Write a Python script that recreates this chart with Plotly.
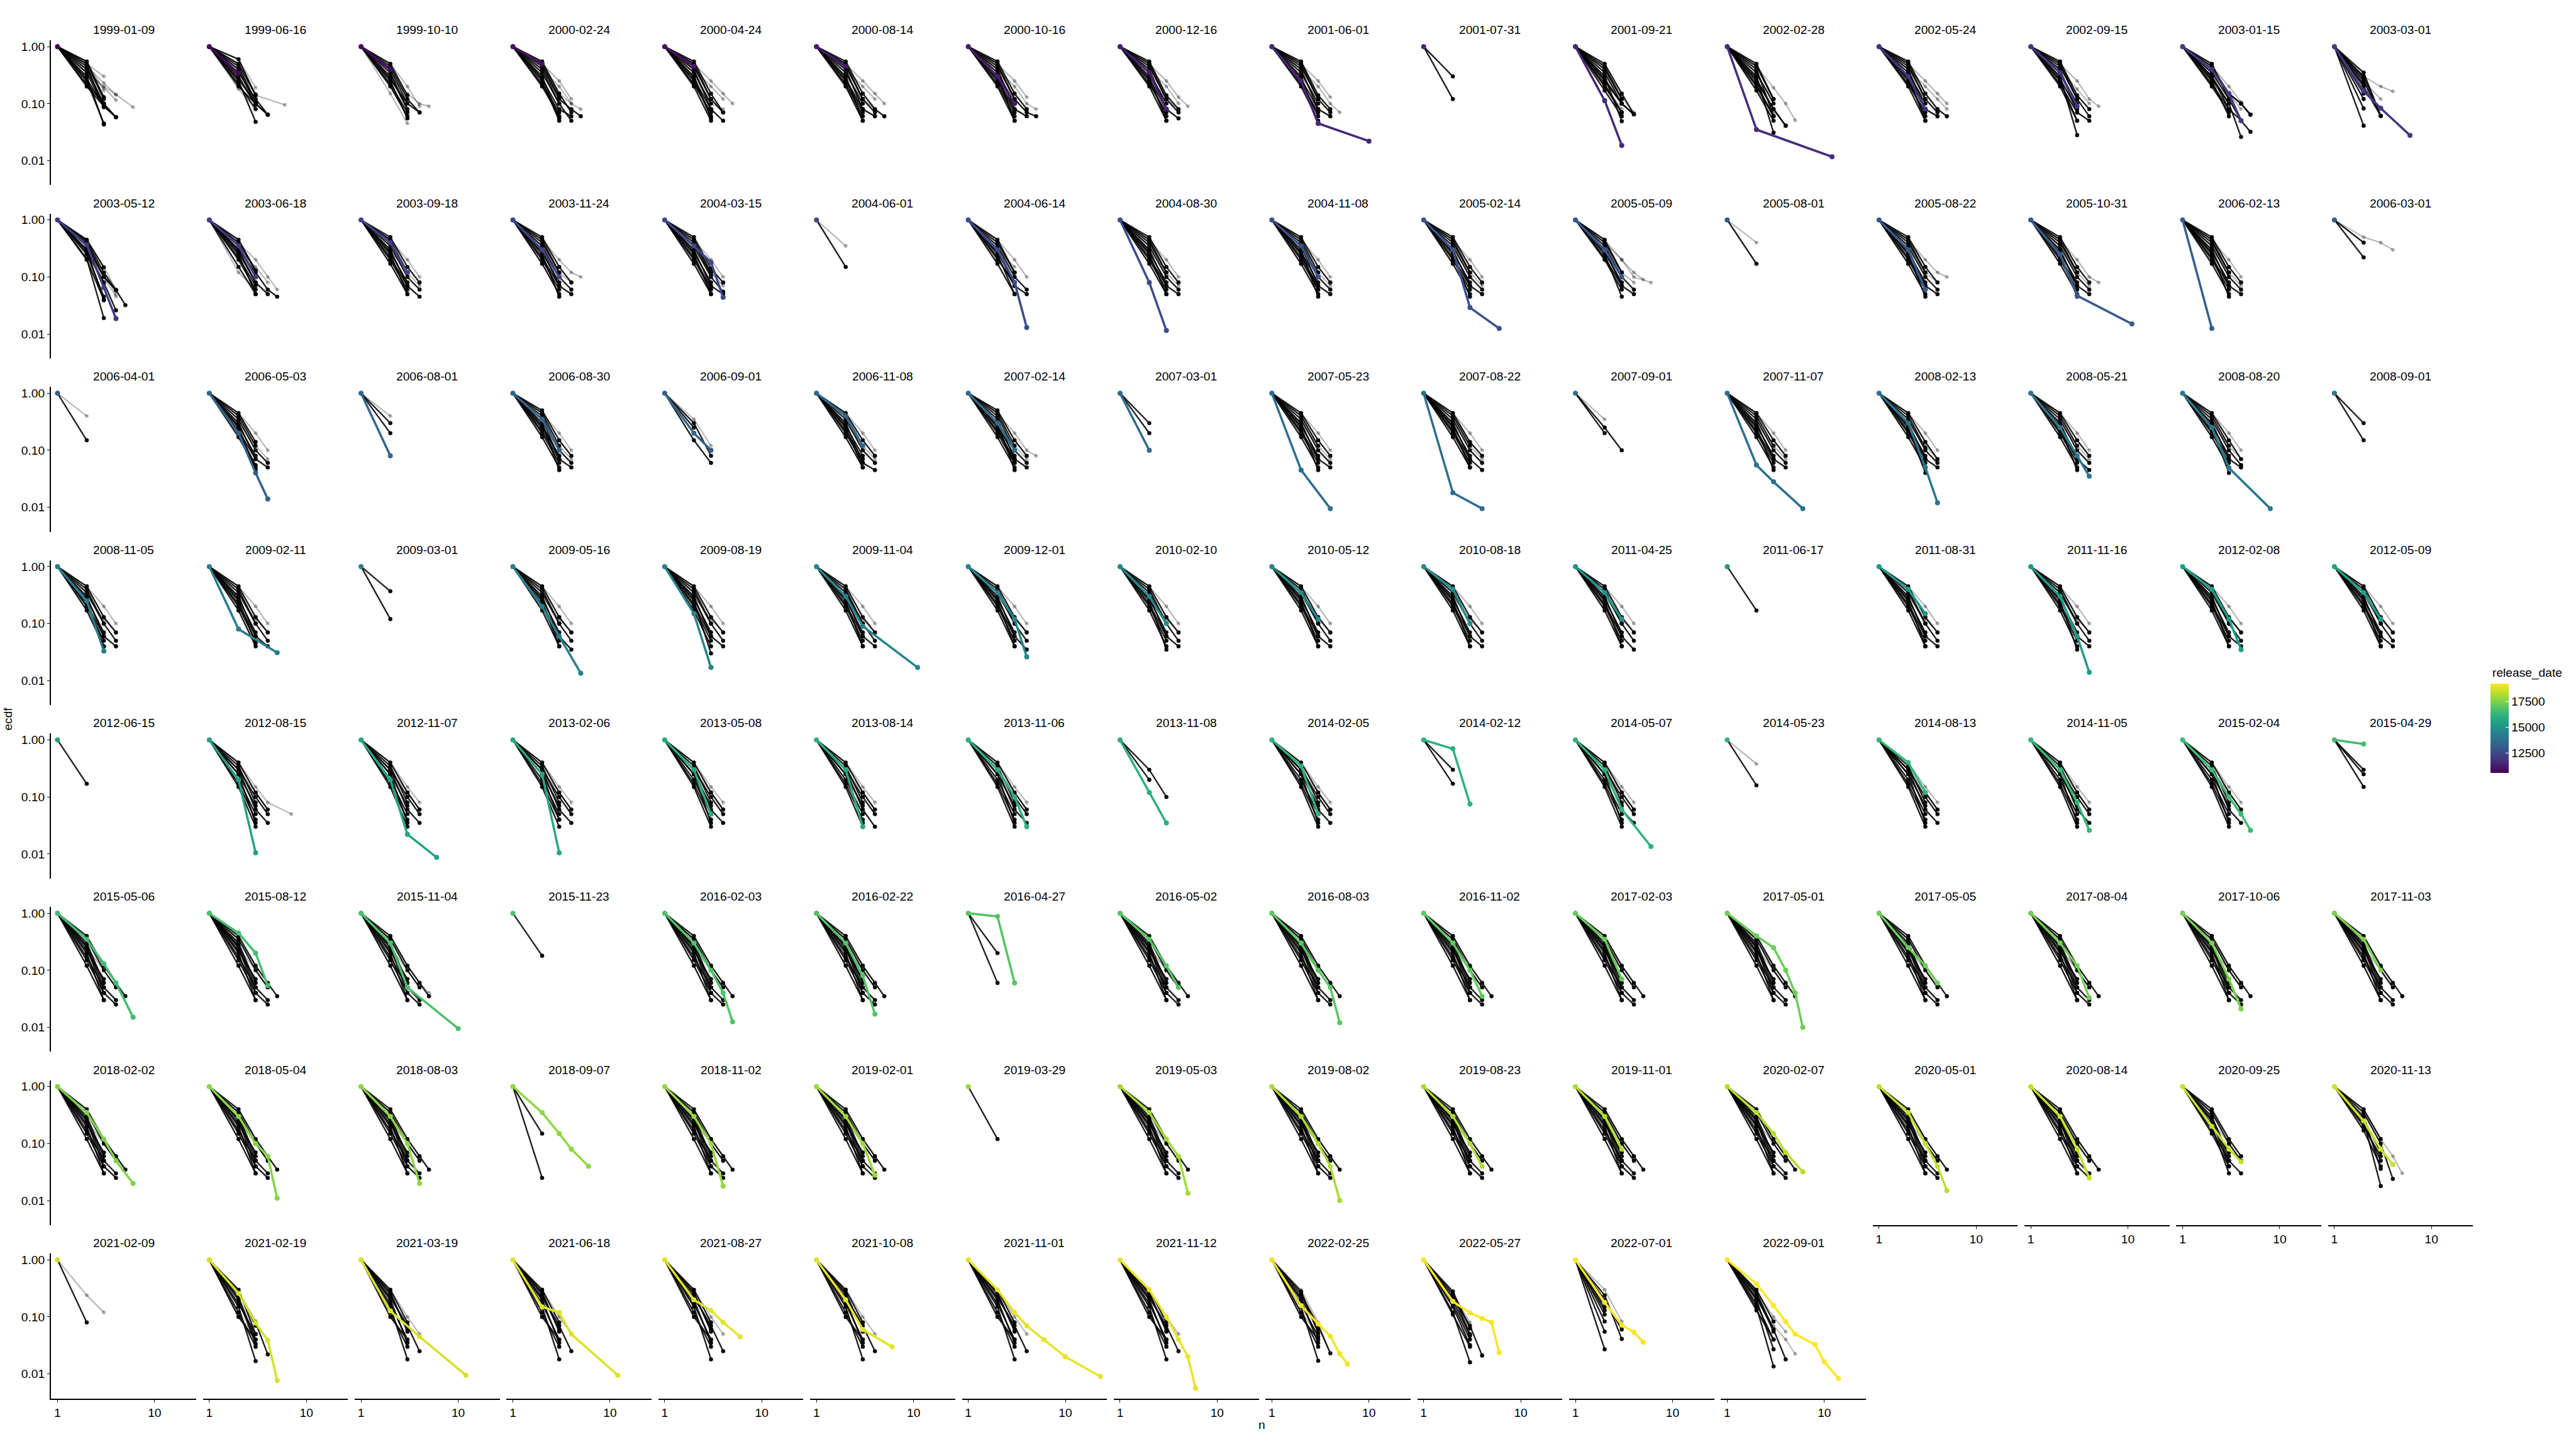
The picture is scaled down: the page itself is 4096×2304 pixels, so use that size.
import plotly.graph_objects as go
import pandas as pd
from plotly.colors import sample_colorscale

# ---------------- data ----------------
dates = [
    "1999-01-09", "1999-06-16", "1999-10-10", "2000-02-24", "2000-04-24", "2000-08-14", "2000-10-16", "2000-12-16",
    "2001-06-01", "2001-07-31", "2001-09-21", "2002-02-28", "2002-05-24", "2002-09-15", "2003-01-15", "2003-03-01",
    "2003-05-12", "2003-06-18", "2003-09-18", "2003-11-24", "2004-03-15", "2004-06-01", "2004-06-14", "2004-08-30",
    "2004-11-08", "2005-02-14", "2005-05-09", "2005-08-01", "2005-08-22", "2005-10-31", "2006-02-13", "2006-03-01",
    "2006-04-01", "2006-05-03", "2006-08-01", "2006-08-30", "2006-09-01", "2006-11-08", "2007-02-14", "2007-03-01",
    "2007-05-23", "2007-08-22", "2007-09-01", "2007-11-07", "2008-02-13", "2008-05-21", "2008-08-20", "2008-09-01",
    "2008-11-05", "2009-02-11", "2009-03-01", "2009-05-16", "2009-08-19", "2009-11-04", "2009-12-01", "2010-02-10",
    "2010-05-12", "2010-08-18", "2011-04-25", "2011-06-17", "2011-08-31", "2011-11-16", "2012-02-08", "2012-05-09",
    "2012-06-15", "2012-08-15", "2012-11-07", "2013-02-06", "2013-05-08", "2013-08-14", "2013-11-06", "2013-11-08",
    "2014-02-05", "2014-02-12", "2014-05-07", "2014-05-23", "2014-08-13", "2014-11-05", "2015-02-04", "2015-04-29",
    "2015-05-06", "2015-08-12", "2015-11-04", "2015-11-23", "2016-02-03", "2016-02-22", "2016-04-27", "2016-05-02",
    "2016-08-03", "2016-11-02", "2017-02-03", "2017-05-01", "2017-05-05", "2017-08-04", "2017-10-06", "2017-11-03",
    "2018-02-02", "2018-05-04", "2018-08-03", "2018-09-07", "2018-11-02", "2019-02-01", "2019-03-29", "2019-05-03",
    "2019-08-02", "2019-08-23", "2019-11-01", "2020-02-07", "2020-05-01", "2020-08-14", "2020-09-25", "2020-11-13",
    "2021-02-09", "2021-02-19", "2021-03-19", "2021-06-18", "2021-08-27", "2021-10-08", "2021-11-01", "2021-11-12",
    "2022-02-25", "2022-05-27", "2022-07-01", "2022-09-01",
]

# highlighted (coloured) release: n values and ecdf values
hl_n = [
    [1], [1, 2], [1, 2], [1, 2], [1, 2], [1, 2], [1, 2, 3], [1, 2, 3],
    [1, 2, 3, 10], [1], [1, 2, 3], [1, 2, 12], [1, 2, 3], [1, 2, 3], [1, 2, 3, 4], [1, 2, 3, 6],
    [1, 2, 3, 4], [1, 2, 3], [1, 2, 3], [1, 2, 3], [1, 2, 3, 4], [1], [1, 2, 3, 4], [1, 2, 3],
    [1, 2, 3], [1, 2, 3, 6], [1, 2, 3], [1], [1, 2, 3], [1, 2, 3, 11], [1, 2], [1],
    [1], [1, 2, 3, 4], [1, 2], [1, 2, 3], [1, 2, 3], [1, 2, 3], [1, 2, 3], [1, 2],
    [1, 2, 4], [1, 2, 4], [1], [1, 2, 3, 6], [1, 2, 3, 4], [1, 2, 3, 4], [1, 2, 3, 8], [1],
    [1, 2, 3], [1, 2, 5], [1], [1, 2, 3, 5], [1, 2, 3], [1, 2, 3, 11], [1, 2, 3, 4], [1, 2, 3],
    [1, 2, 3], [1, 2, 3], [1, 2, 3], [1], [1, 2, 3], [1, 2, 3, 4], [1, 2, 3, 4], [1, 2, 3],
    [1], [1, 2, 3], [1, 2, 3, 6], [1, 2, 3], [1, 2, 3], [1, 2, 3], [1, 2, 3, 4], [1, 2, 3],
    [1, 2, 3], [1, 2, 3], [1, 2, 3, 6], [1], [1, 2, 3], [1, 2, 3, 4], [1, 2, 3, 4, 5], [1, 2],
    [1, 2, 3, 4, 6], [1, 2, 3, 4], [1, 2, 3, 10], [1], [1, 2, 3, 4, 5], [1, 2, 3, 4], [1, 2, 3], [1, 2, 3, 4],
    [1, 2, 3, 4, 5], [1, 2, 3, 4], [1, 2, 3], [1, 2, 3, 4, 5, 6], [1, 2, 3, 4], [1, 2, 3, 4], [1, 2, 3, 4], [1, 2, 3],
    [1, 2, 3, 4, 6], [1, 2, 3, 4, 5], [1, 2, 3, 4], [1, 2, 3, 4, 6], [1, 2, 3, 4], [1, 2, 3, 4], [1], [1, 2, 3, 4, 5],
    [1, 2, 3, 4, 5], [1, 2, 3, 4], [1, 2, 3], [1, 2, 3, 4, 6], [1, 2, 3, 4, 5], [1, 2, 3, 4], [1, 2, 3, 4], [1, 2, 3, 4],
    [1], [1, 2, 3, 4, 5], [1, 2, 4, 12], [1, 2, 3, 4, 12], [1, 2, 3, 4, 6], [1, 2, 3, 6], [1, 2, 3, 4, 6, 10, 23], [1, 2, 3, 4, 5, 6],
    [1, 2, 3, 4, 5, 6], [1, 2, 3, 4, 5, 6], [1, 2, 3, 4, 5], [1, 2, 3, 4, 5, 8, 10, 14],
]
hl_y = [
    [1], [1, 0.34], [1, 0.4], [1, 0.5], [1, 0.45], [1, 0.45], [1, 0.3, 0.1], [1, 0.35, 0.08],
    [1, 0.25, 0.045, 0.022], [1], [1, 0.113, 0.0185], [1, 0.035, 0.0117], [1, 0.3, 0.08], [1, 0.35, 0.09], [1, 0.4, 0.15, 0.05], [1, 0.166, 0.083, 0.0278],
    [1, 0.366, 0.065, 0.0186], [1, 0.355, 0.1], [1, 0.4, 0.12], [1, 0.3, 0.1], [1, 0.35, 0.18, 0.044], [1], [1, 0.3, 0.08, 0.013], [1, 0.08, 0.0115],
    [1, 0.35, 0.1], [1, 0.3, 0.029, 0.0125], [1, 0.3, 0.1], [1], [1, 0.3, 0.06], [1, 0.25, 0.047, 0.015], [1, 0.0125], [1],
    [1], [1, 0.2, 0.04, 0.014], [1, 0.08], [1, 0.35, 0.1], [1, 0.2, 0.1], [1, 0.4, 0.12], [1, 0.3, 0.1], [1, 0.1],
    [1, 0.045, 0.0095], [1, 0.018, 0.0095], [1], [1, 0.055, 0.028, 0.0095], [1, 0.3, 0.05, 0.012], [1, 0.25, 0.08, 0.035], [1, 0.25, 0.049, 0.0095], [1],
    [1, 0.25, 0.033], [1, 0.08, 0.031], [1], [1, 0.2, 0.06, 0.0135], [1, 0.15, 0.017], [1, 0.3, 0.09, 0.017], [1, 0.35, 0.12, 0.026], [1, 0.3, 0.1],
    [1, 0.35, 0.12], [1, 0.4, 0.1], [1, 0.35, 0.12], [1], [1, 0.4, 0.15], [1, 0.3, 0.06, 0.014], [1, 0.4, 0.12, 0.035], [1, 0.35, 0.12],
    [1], [1, 0.2, 0.0105], [1, 0.2, 0.022, 0.0087], [1, 0.25, 0.0105], [1, 0.3, 0.05], [1, 0.3, 0.03], [1, 0.3, 0.1, 0.03], [1, 0.12, 0.035],
    [1, 0.35, 0.05], [1, 0.7, 0.075], [1, 0.3, 0.06, 0.0135], [1], [1, 0.4, 0.12], [1, 0.3, 0.08, 0.026], [1, 0.3, 0.1, 0.05, 0.026], [1, 0.85],
    [1, 0.35, 0.13, 0.06, 0.015], [1, 0.45, 0.2, 0.054], [1, 0.3, 0.05, 0.0095], [1], [1, 0.3, 0.1, 0.04, 0.0125], [1, 0.3, 0.08, 0.017], [1, 0.88, 0.06], [1, 0.35, 0.12, 0.05],
    [1, 0.3, 0.1, 0.05, 0.012], [1, 0.3, 0.1, 0.035], [1, 0.35, 0.07], [1, 0.4, 0.25, 0.1, 0.04, 0.01], [1, 0.25, 0.12, 0.06], [1, 0.3, 0.12, 0.033], [1, 0.3, 0.07, 0.021], [1, 0.35, 0.1],
    [1, 0.35, 0.12, 0.05, 0.02], [1, 0.3, 0.1, 0.06, 0.011], [1, 0.3, 0.1, 0.02], [1, 0.35, 0.15, 0.08, 0.04], [1, 0.3, 0.1, 0.018], [1, 0.3, 0.1, 0.028], [1], [1, 0.35, 0.12, 0.06, 0.0135],
    [1, 0.3, 0.1, 0.04, 0.01], [1, 0.3, 0.1, 0.04], [1, 0.3, 0.08], [1, 0.35, 0.15, 0.07, 0.032], [1, 0.35, 0.1, 0.04, 0.015], [1, 0.3, 0.08, 0.025], [1, 0.2, 0.08, 0.048], [1, 0.25, 0.08, 0.043],
    [1], [1, 0.26, 0.078, 0.039, 0.0077], [1, 0.127, 0.045, 0.0095], [1, 0.15, 0.12, 0.05, 0.0095], [1, 0.2, 0.13, 0.08, 0.045], [1, 0.2, 0.06, 0.03], [1, 0.3, 0.12, 0.07, 0.04, 0.02, 0.009], [1, 0.3, 0.1, 0.04, 0.02, 0.0056],
    [1, 0.158, 0.075, 0.046, 0.0226, 0.015], [1, 0.187, 0.118, 0.094, 0.08, 0.0237], [1, 0.18, 0.072, 0.054, 0.036], [1, 0.38, 0.158, 0.083, 0.05, 0.033, 0.0163, 0.0083],
]

# other releases drawn opaque: ecdf at n = 2, 3, ... (n = 1 is always 1.00; None = gap in n)
dark_lines = [
    # row 1
    [[0.55, 0.13], [0.5, 0.12], [0.45, 0.087], [0.4, 0.1, 0.058], [0.35, 0.087], [0.3, 0.043], [0.27, 0.09, 0.058], [0.25, 0.045], [0.22, 0.1], [0.2, 0.09, 0.058]],  # 1999-01-09
    [[0.6, 0.14], [0.5, 0.143], [0.45, 0.11], [0.4, 0.096], [0.35, 0.12, 0.064], [0.3, 0.096], [0.27, 0.1, 0.064], [0.25, 0.048], [0.22, 0.08], [0.2, 0.1, 0.064]],  # 1999-06-16
    [[0.5, 0.14], [0.45, 0.12, 0.07], [0.4, 0.1, 0.07], [0.35, 0.08], [0.3, 0.08], [0.27, 0.1], [0.25, 0.055], [0.22, 0.07], [0.2, 0.06]],  # 1999-10-10
    [[0.55, 0.15, 0.07], [0.5, 0.13], [0.45, 0.12, 0.08, 0.06], [0.4, 0.1, 0.05], [0.35, 0.1], [0.3, 0.055], [0.27, 0.08, 0.06], [0.25, 0.05], [0.22, 0.07], [0.2, 0.06]],  # 2000-02-24
    [[0.55, 0.15, 0.07], [0.5, 0.12], [0.45, 0.12, 0.07], [0.4, 0.08, 0.05], [0.35, 0.1], [0.3, 0.055], [0.27, 0.08], [0.25, 0.06], [0.22, 0.07], [0.2, 0.05]],  # 2000-04-24
    [[0.55, 0.15, 0.08, 0.06], [0.5, 0.12], [0.45, 0.12, 0.07], [0.4, 0.08, 0.06], [0.35, 0.1], [0.3, 0.05], [0.27, 0.08], [0.25, 0.07], [0.22, 0.06], [0.2, 0.05]],  # 2000-08-14
    [[0.55, 0.15, 0.08], [0.5, 0.12], [0.45, 0.12, 0.07, 0.06], [0.4, 0.08, 0.06], [0.35, 0.1], [0.3, 0.05], [0.27, 0.08], [0.25, 0.07], [0.22, 0.06], [0.2, 0.05]],  # 2000-10-16
    [[0.55, 0.14, 0.08], [0.5, 0.12], [0.45, 0.12, 0.07], [0.4, 0.08, 0.055], [0.35, 0.1], [0.3, 0.05], [0.27, 0.08], [0.25, 0.06], [0.22, 0.07], [0.2, 0.05]],  # 2000-12-16
    [[0.55, 0.14, 0.08], [0.5, 0.12], [0.45, 0.12, 0.07], [0.4, 0.08, 0.06], [0.35, 0.1], [0.3, 0.045], [0.27, 0.08], [0.25, 0.06], [0.22, 0.07], [0.2, 0.05]],  # 2001-06-01
    [[0.3], [0.12]],  # 2001-07-31
    [[0.5, 0.15, 0.065], [0.45, 0.12], [0.4, 0.12], [0.35, 0.1], [0.3, 0.049], [0.27, 0.1, 0.065], [0.25, 0.1, 0.065], [0.22, 0.07], [0.2, 0.07], [0.17, 0.06]],  # 2001-09-21
    [[0.5, 0.12], [0.45, 0.12], [0.4, 0.061], [0.35, 0.1], [0.3, 0.031], [0.27, 0.08, 0.041], [0.25, 0.08, 0.041], [0.22, 0.06], [0.2, 0.06], [0.17, 0.05]],  # 2002-02-28
    [[0.55, 0.15, 0.08, 0.06], [0.5, 0.12], [0.45, 0.12, 0.07], [0.4, 0.08, 0.06], [0.35, 0.1], [0.3, 0.05], [0.27, 0.08], [0.25, 0.06], [0.22, 0.07], [0.2, 0.05]],  # 2002-05-24
    [[0.55, 0.14, 0.08], [0.5, 0.12], [0.45, 0.12, 0.06], [0.4, 0.07, 0.05], [0.35, 0.1], [0.3, 0.028], [0.27, 0.08], [0.25, 0.05], [0.22, 0.07], [0.2, 0.05]],  # 2002-09-15
    [[0.5, 0.12], [0.45, 0.15, 0.1, 0.064], [0.4, 0.15, 0.1, 0.064], [0.35, 0.12, 0.05, 0.032], [0.3, 0.1, 0.026], [0.3, 0.08, 0.051], [0.27, 0.1], [0.25, 0.06], [0.22, 0.08], [0.2, 0.07]],  # 2003-01-15
    [[0.082], [0.041], [0.35, 0.061], [0.3, 0.061], [0.25, 0.061], [0.2, 0.061], [0.12], [0.28], [0.22], [0.15]],  # 2003-03-01
    # row 2
    [[0.45, 0.147], [0.43, 0.12, 0.059, 0.032], [0.4, 0.1, 0.059], [0.35, 0.1, 0.059], [0.3, 0.039], [0.3, 0.08, 0.026], [0.27, 0.08], [0.25, 0.045], [0.21, 0.019], [0.2, 0.04]],  # 2003-05-12
    [[0.45, 0.13], [0.4, 0.13], [0.35, 0.1], [0.3, 0.12, 0.06, 0.045], [0.3, 0.08, 0.05], [0.27, 0.08], [0.25, 0.05], [0.22, 0.07], [0.2, 0.06], [0.15, 0.05]],  # 2003-06-18
    [[0.5, 0.15, 0.08], [0.45, 0.12], [0.4, 0.12], [0.35, 0.1, 0.06], [0.3, 0.07, 0.045], [0.27, 0.08], [0.25, 0.05], [0.22, 0.07], [0.2, 0.06], [0.17, 0.05]],  # 2003-09-18
    [[0.5, 0.15, 0.08], [0.45, 0.12], [0.4, 0.12], [0.35, 0.1, 0.06], [0.3, 0.07, 0.05], [0.27, 0.08], [0.25, 0.045], [0.22, 0.07], [0.2, 0.06], [0.17, 0.05]],  # 2003-11-24
    [[0.5, 0.14, 0.08], [0.45, 0.12], [0.4, 0.11], [0.35, 0.1, 0.055], [0.3, 0.07, 0.05], [0.27, 0.08], [0.25, 0.05], [0.22, 0.065], [0.2, 0.06], [0.17, 0.05]],  # 2004-03-15
    [[0.15]],  # 2004-06-01
    [[0.45, 0.12], [0.4, 0.12], [0.35, 0.1, 0.06], [0.3, 0.07, 0.05], [0.27, 0.08], [0.25, 0.05], [0.22, 0.07], [0.2, 0.08], [0.17, 0.05]],  # 2004-06-14
    [[0.5, 0.15, 0.08], [0.45, 0.12], [0.4, 0.12], [0.35, 0.1, 0.06], [0.3, 0.07, 0.05], [0.27, 0.08], [0.25, 0.05], [0.22, 0.07], [0.2, 0.06], [0.17, 0.05]],  # 2004-08-30
    [[0.5, 0.15, 0.08], [0.45, 0.12], [0.4, 0.1, 0.06], [0.35, 0.07, 0.05], [0.3, 0.045], [0.27, 0.08], [0.25, 0.06], [0.22, 0.07], [0.2, 0.06], [0.17, 0.05]],  # 2004-11-08
    [[0.5, 0.15, 0.08], [0.45, 0.12], [0.4, 0.12], [0.35, 0.1, 0.06], [0.3, 0.07, 0.05], [0.27, 0.08], [0.25, 0.045], [0.22, 0.07], [0.2, 0.06], [0.17, 0.05]],  # 2005-02-14
    [[0.45, 0.12], [0.4, 0.12], [0.35, 0.1, 0.06], [0.3, 0.07, 0.05], [0.27, 0.08], [0.25, 0.045], [0.22, 0.07], [0.2, 0.06]],  # 2005-05-09
    [[0.17]],  # 2005-08-01
    [[0.5, 0.15, 0.08], [0.45, 0.12], [0.4, 0.12], [0.35, 0.1, 0.06], [0.3, 0.07, 0.05], [0.27, 0.08], [0.25, 0.045], [0.22, 0.07], [0.2, 0.06], [0.17, 0.05]],  # 2005-08-22
    [[0.5, 0.15, 0.08], [0.45, 0.12], [0.4, 0.12], [0.35, 0.1, 0.06], [0.3, 0.07, 0.05], [0.27, 0.08], [0.25, 0.045], [0.22, 0.07], [0.2, 0.06], [0.17, 0.05]],  # 2005-10-31
    [[0.5, 0.15, 0.08], [0.45, 0.12], [0.4, 0.12], [0.35, 0.1, 0.06], [0.3, 0.07, 0.05], [0.27, 0.08], [0.25, 0.045], [0.22, 0.07], [0.2, 0.06], [0.17, 0.05]],  # 2006-02-13
    [[0.4], [0.22]],  # 2006-03-01
    # row 3
    [[0.15]],  # 2006-04-01
    [[0.45, 0.14], [0.4, 0.12], [0.35, 0.1, 0.06], [0.3, 0.07, 0.05], [0.27, 0.08], [0.25, 0.045], [0.22, 0.07], [0.2, 0.055], [0.17, 0.05]],  # 2006-05-03
    [[0.2], [0.3]],  # 2006-08-01
    [[0.5, 0.15, 0.08], [0.45, 0.12], [0.4, 0.1, 0.06], [0.35, 0.07, 0.05], [0.3, 0.045], [0.27, 0.08], [0.25, 0.08], [0.22, 0.07], [0.2, 0.06], [0.17, 0.05]],  # 2006-08-30
    [[0.3, 0.08], [0.15, 0.06], [0.25]],  # 2006-09-01
    [[0.45, 0.15, 0.08], [0.4, 0.12], [0.35, 0.1, 0.06], [0.3, 0.06, 0.045], [0.27, 0.08], [0.25, 0.05], [0.22, 0.07], [0.2, 0.06], [0.17, 0.05]],  # 2006-11-08
    [[0.5, 0.15, 0.08], [0.45, 0.12], [0.4, 0.1, 0.06], [0.35, 0.07, 0.05], [0.3, 0.045], [0.27, 0.08], [0.25, 0.06], [0.22, 0.07], [0.2, 0.06], [0.17, 0.05]],  # 2007-02-14
    [[0.3], [0.2]],  # 2007-03-01
    [[0.45, 0.15, 0.08], [0.4, 0.12], [0.35, 0.1, 0.06], [0.3, 0.07, 0.05], [0.27, 0.08], [0.25, 0.045], [0.22, 0.07], [0.2, 0.06], [0.17, 0.05]],  # 2007-05-23
    [[0.45, 0.14, 0.08], [0.4, 0.12], [0.35, 0.1, 0.06], [0.3, 0.07, 0.045], [0.27, 0.08], [0.25, 0.05], [0.22, 0.07], [0.2, 0.06], [0.17, 0.05]],  # 2007-08-22
    [[0.25, 0.1], [0.2]],  # 2007-09-01
    [[0.45, 0.15, 0.08], [0.4, 0.12], [0.35, 0.1, 0.06], [0.3, 0.07, 0.05], [0.27, 0.08], [0.25, 0.045], [0.22, 0.07], [0.2, 0.06], [0.17, 0.05]],  # 2007-11-07
    [[0.45, 0.14, 0.07], [0.4, 0.11], [0.35, 0.1, 0.06], [0.3, 0.07, 0.05], [0.27, 0.08], [0.25, 0.04], [0.22, 0.07], [0.2, 0.06], [0.17, 0.05]],  # 2008-02-13
    [[0.45, 0.15, 0.08], [0.4, 0.12], [0.35, 0.1, 0.06], [0.3, 0.07, 0.045], [0.27, 0.08], [0.25, 0.045], [0.22, 0.07], [0.2, 0.06], [0.17, 0.05]],  # 2008-05-21
    [[0.45, 0.15, 0.07], [0.4, 0.12], [0.35, 0.1, 0.055], [0.3, 0.07, 0.05], [0.27, 0.08], [0.25, 0.04], [0.22, 0.07], [0.2, 0.06], [0.17, 0.05]],  # 2008-08-20
    [[0.3], [0.15]],  # 2008-09-01
    # row 4
    [[0.45, 0.13, 0.07], [0.4, 0.1], [0.35, 0.1, 0.05], [0.3, 0.06, 0.04], [0.27, 0.07], [0.25, 0.04], [0.22, 0.06], [0.2, 0.05], [0.17, 0.04]],  # 2008-11-05
    [[0.45, 0.13, 0.07], [0.4, 0.1], [0.35, 0.1, 0.05], [0.3, 0.06, 0.04], [0.27, 0.07], [0.25, 0.045], [0.22, 0.06], [0.2, 0.05], [0.17, 0.04]],  # 2009-02-11
    [[0.37], [0.12]],  # 2009-03-01
    [[0.45, 0.13, 0.07], [0.4, 0.1], [0.35, 0.1, 0.05], [0.3, 0.06, 0.035], [0.27, 0.07], [0.25, 0.04], [0.22, 0.06], [0.2, 0.05], [0.17, 0.04]],  # 2009-05-16
    [[0.45, 0.13, 0.07], [0.4, 0.1], [0.35, 0.1, 0.05], [0.3, 0.06, 0.04], [0.27, 0.07], [0.25, 0.03], [0.22, 0.06], [0.2, 0.05], [0.17, 0.04]],  # 2009-08-19
    [[0.45, 0.13, 0.07], [0.4, 0.1], [0.35, 0.1, 0.05], [0.3, 0.06, 0.04], [0.27, 0.07], [0.25, 0.04], [0.22, 0.06], [0.2, 0.05], [0.17, 0.04]],  # 2009-11-04
    [[0.45, 0.13, 0.07], [0.4, 0.1], [0.35, 0.1, 0.05], [0.3, 0.06, 0.035], [0.27, 0.07], [0.25, 0.04], [0.22, 0.06], [0.2, 0.05], [0.17, 0.04]],  # 2009-12-01
    [[0.45, 0.13, 0.07], [0.4, 0.1], [0.35, 0.1, 0.05], [0.3, 0.06, 0.04], [0.27, 0.07], [0.25, 0.035], [0.22, 0.06], [0.2, 0.05], [0.17, 0.04]],  # 2010-02-10
    [[0.45, 0.13, 0.07], [0.4, 0.1], [0.35, 0.1, 0.05], [0.3, 0.06, 0.04], [0.27, 0.07], [0.25, 0.04], [0.22, 0.06], [0.2, 0.05], [0.17, 0.04]],  # 2010-05-12
    [[0.45, 0.13, 0.07], [0.4, 0.1], [0.35, 0.1, 0.05], [0.3, 0.06, 0.04], [0.27, 0.07], [0.25, 0.04], [0.22, 0.06], [0.2, 0.05], [0.17, 0.04]],  # 2010-08-18
    [[0.45, 0.13, 0.07], [0.4, 0.1], [0.35, 0.1, 0.05], [0.3, 0.06, 0.035], [0.27, 0.07], [0.25, 0.04], [0.22, 0.06], [0.2, 0.05], [0.17, 0.04]],  # 2011-04-25
    [[0.17]],  # 2011-06-17
    [[0.45, 0.13, 0.07], [0.4, 0.1], [0.35, 0.1, 0.05], [0.3, 0.06, 0.04], [0.27, 0.07], [0.25, 0.04], [0.22, 0.06], [0.2, 0.05], [0.17, 0.04]],  # 2011-08-31
    [[0.45, 0.13, 0.07], [0.4, 0.1], [0.35, 0.1, 0.05], [0.3, 0.06, 0.04], [0.27, 0.07], [0.25, 0.035], [0.22, 0.06], [0.2, 0.05], [0.17, 0.04]],  # 2011-11-16
    [[0.45, 0.13, 0.07], [0.4, 0.1], [0.35, 0.1, 0.05], [0.3, 0.06, 0.04], [0.27, 0.07], [0.25, 0.04], [0.22, 0.06], [0.2, 0.05], [0.17, 0.04]],  # 2012-02-08
    [[0.45, 0.13, 0.07], [0.4, 0.1], [0.35, 0.1, 0.05], [0.3, 0.06, 0.04], [0.27, 0.07], [0.25, 0.04], [0.22, 0.06], [0.2, 0.05], [0.17, 0.04]],  # 2012-05-09
    # row 5
    [[0.17]],  # 2012-06-15
    [[0.4, 0.12, 0.06], [0.35, 0.08], [0.3, 0.1, 0.05], [0.3, 0.06, 0.035], [0.25, 0.07], [0.25, 0.035], [0.2, 0.05], [0.17, 0.04], [0.15, 0.03]],  # 2012-08-15
    [[0.4, 0.12, 0.06], [0.35, 0.08], [0.3, 0.1, 0.05], [0.3, 0.06, 0.035], [0.25, 0.07], [0.25, 0.035], [0.2, 0.05], [0.17, 0.04], [0.15, 0.03]],  # 2012-11-07
    [[0.4, 0.12, 0.06], [0.35, 0.08], [0.3, 0.1, 0.05], [0.3, 0.06, 0.035], [0.25, 0.07], [0.25, 0.04], [0.2, 0.05], [0.17, 0.04], [0.15, 0.03]],  # 2013-02-06
    [[0.4, 0.12, 0.06], [0.35, 0.08], [0.3, 0.1, 0.05], [0.3, 0.06, 0.035], [0.25, 0.07], [0.25, 0.035], [0.2, 0.05], [0.17, 0.04], [0.15, 0.03]],  # 2013-05-08
    [[0.4, 0.12, 0.06], [0.35, 0.08], [0.3, 0.1, 0.05], [0.3, 0.06, 0.03], [0.25, 0.07], [0.25, 0.035], [0.2, 0.05], [0.17, 0.04], [0.15, 0.03]],  # 2013-08-14
    [[0.4, 0.12, 0.06], [0.35, 0.08], [0.3, 0.1, 0.05], [0.3, 0.06, 0.035], [0.25, 0.07], [0.25, 0.035], [0.2, 0.05], [0.17, 0.04], [0.15, 0.03]],  # 2013-11-06
    [[0.2], [0.3, 0.1]],  # 2013-11-08
    [[0.4, 0.12, 0.06], [0.35, 0.08], [0.3, 0.1, 0.05], [0.3, 0.06, 0.035], [0.25, 0.07], [0.25, 0.035], [0.2, 0.05], [0.17, 0.04], [0.15, 0.03]],  # 2014-02-05
    [[0.17], [0.3]],  # 2014-02-12
    [[0.4, 0.12, 0.06], [0.35, 0.08], [0.3, 0.1, 0.05], [0.3, 0.06, 0.035], [0.25, 0.07], [0.25, 0.035], [0.2, 0.05], [0.17, 0.04], [0.15, 0.03]],  # 2014-05-07
    [[0.16]],  # 2014-05-23
    [[0.4, 0.12, 0.06], [0.35, 0.08], [0.3, 0.1, 0.05], [0.3, 0.06, 0.035], [0.25, 0.07], [0.25, 0.035], [0.2, 0.05], [0.17, 0.04], [0.15, 0.03]],  # 2014-08-13
    [[0.4, 0.12, 0.06], [0.35, 0.08], [0.3, 0.1, 0.05], [0.3, 0.06, 0.035], [0.25, 0.07], [0.25, 0.035], [0.2, 0.05], [0.17, 0.04], [0.15, 0.03]],  # 2014-11-05
    [[0.4, 0.12, 0.06], [0.35, 0.08], [0.3, 0.1, 0.05], [0.3, 0.06, 0.035], [0.25, 0.07], [0.25, 0.035], [0.2, 0.05], [0.17, 0.04], [0.15, 0.03]],  # 2015-02-04
    [[0.15], [0.25], [0.3]],  # 2015-04-29
    # row 6
    [[0.4, 0.12, 0.06, 0.035], [0.35, 0.1, 0.05], [0.3, 0.06], [0.27, 0.05, 0.03], [0.25, 0.04, 0.025], [0.22, 0.07], [0.2, 0.03], [0.17, 0.05], [0.15, 0.04], [0.12, 0.03]],  # 2015-05-06
    [[0.4, 0.12, 0.06, 0.035], [0.35, 0.1, 0.05], [0.3, 0.06], [0.27, 0.05, 0.03], [0.25, 0.04, 0.025], [0.22, 0.07], [0.2, 0.03], [0.17, 0.05], [0.15, 0.04], [0.12, 0.03]],  # 2015-08-12
    [[0.4, 0.12, 0.06, 0.035], [0.35, 0.1, 0.05], [0.3, 0.06], [0.27, 0.05, 0.03], [0.25, 0.04, 0.025], [0.22, 0.07], [0.2, 0.03], [0.17, 0.05], [0.15, 0.04], [0.12, 0.03]],  # 2015-11-04
    [[0.18]],  # 2015-11-23
    [[0.4, 0.12, 0.06, 0.035], [0.35, 0.1, 0.05], [0.3, 0.06], [0.27, 0.05, 0.03], [0.25, 0.04, 0.025], [0.22, 0.07], [0.2, 0.03], [0.17, 0.05], [0.15, 0.04], [0.12, 0.03]],  # 2016-02-03
    [[0.4, 0.12, 0.06, 0.035], [0.35, 0.1, 0.05], [0.3, 0.06], [0.27, 0.05, 0.03], [0.25, 0.04, 0.025], [0.22, 0.07], [0.2, 0.03], [0.17, 0.05], [0.15, 0.04], [0.12, 0.03]],  # 2016-02-22
    [[0.2], [0.06]],  # 2016-04-27
    [[0.4, 0.12, 0.06, 0.035], [0.35, 0.1, 0.05], [0.3, 0.06], [0.27, 0.05, 0.03], [0.25, 0.04, 0.025], [0.22, 0.07], [0.2, 0.03], [0.17, 0.05], [0.15, 0.04], [0.12, 0.03]],  # 2016-05-02
    [[0.4, 0.12, 0.06, 0.035], [0.35, 0.1, 0.05], [0.3, 0.06], [0.27, 0.05, 0.03], [0.25, 0.04, 0.025], [0.22, 0.07], [0.2, 0.03], [0.17, 0.05], [0.15, 0.04], [0.12, 0.03]],  # 2016-08-03
    [[0.4, 0.12, 0.06, 0.035], [0.35, 0.1, 0.05], [0.3, 0.06], [0.27, 0.05, 0.03], [0.25, 0.04, 0.025], [0.22, 0.07], [0.2, 0.03], [0.17, 0.05], [0.15, 0.04], [0.12, 0.03]],  # 2016-11-02
    [[0.4, 0.12, 0.06, 0.035], [0.35, 0.1, 0.05], [0.3, 0.06], [0.27, 0.05, 0.03], [0.25, 0.04, 0.025], [0.22, 0.07], [0.2, 0.03], [0.17, 0.05], [0.15, 0.04], [0.12, 0.03]],  # 2017-02-03
    [[0.4, 0.12, 0.06, 0.035], [0.35, 0.1, 0.05], [0.3, 0.06], [0.27, 0.05, 0.03], [0.25, 0.04, 0.025], [0.22, 0.07], [0.2, 0.03], [0.17, 0.05], [0.15, 0.04], [0.12, 0.03]],  # 2017-05-01
    [[0.4, 0.12, 0.06, 0.035], [0.35, 0.1, 0.05], [0.3, 0.06], [0.27, 0.05, 0.03], [0.25, 0.04, 0.025], [0.22, 0.07], [0.2, 0.03], [0.17, 0.05], [0.15, 0.04], [0.12, 0.03]],  # 2017-05-05
    [[0.4, 0.12, 0.06, 0.035], [0.35, 0.1, 0.05], [0.3, 0.06], [0.27, 0.05, 0.03], [0.25, 0.04, 0.025], [0.22, 0.07], [0.2, 0.03], [0.17, 0.05], [0.15, 0.04], [0.12, 0.03]],  # 2017-08-04
    [[0.4, 0.12, 0.06, 0.035], [0.35, 0.1, 0.05], [0.3, 0.06], [0.27, 0.05, 0.03], [0.25, 0.04, 0.025], [0.22, 0.07], [0.2, 0.03], [0.17, 0.05], [0.15, 0.04], [0.12, 0.03]],  # 2017-10-06
    [[0.4, 0.12, 0.06, 0.035], [0.35, 0.1, 0.05], [0.3, 0.06], [0.27, 0.05, 0.03], [0.25, 0.04, 0.025], [0.22, 0.07], [0.2, 0.03], [0.17, 0.05], [0.15, 0.04], [0.12, 0.03]],  # 2017-11-03
    # row 7
    [[0.4, 0.12, 0.06, 0.035], [0.35, 0.1, 0.05], [0.3, 0.06], [0.27, 0.05, 0.03], [0.25, 0.04, 0.025], [0.22, 0.07], [0.2, 0.03], [0.17, 0.05], [0.15, 0.04], [0.12, 0.03]],  # 2018-02-02
    [[0.4, 0.12, 0.06, 0.035], [0.35, 0.1, 0.05], [0.3, 0.06], [0.27, 0.05, 0.03], [0.25, 0.04, 0.025], [0.22, 0.07], [0.2, 0.03], [0.17, 0.05], [0.15, 0.04], [0.12, 0.03]],  # 2018-05-04
    [[0.4, 0.12, 0.06, 0.035], [0.35, 0.1, 0.05], [0.3, 0.06], [0.27, 0.05, 0.03], [0.25, 0.04, 0.025], [0.22, 0.07], [0.2, 0.03], [0.17, 0.05], [0.15, 0.04], [0.12, 0.03]],  # 2018-08-03
    [[0.15], [0.025]],  # 2018-09-07
    [[0.4, 0.12, 0.06, 0.035], [0.35, 0.1, 0.05], [0.3, 0.06], [0.27, 0.05, 0.03], [0.25, 0.04, 0.025], [0.22, 0.07], [0.2, 0.03], [0.17, 0.05], [0.15, 0.04], [0.12, 0.03]],  # 2018-11-02
    [[0.4, 0.12, 0.06, 0.035], [0.35, 0.1, 0.05], [0.3, 0.06], [0.27, 0.05, 0.03], [0.25, 0.04, 0.025], [0.22, 0.07], [0.2, 0.03], [0.17, 0.05], [0.15, 0.04], [0.12, 0.03]],  # 2019-02-01
    [[0.12]],  # 2019-03-29
    [[0.4, 0.12, 0.06, 0.035], [0.35, 0.1, 0.05], [0.3, 0.06], [0.27, 0.05, 0.03], [0.25, 0.04, 0.025], [0.22, 0.07], [0.2, 0.03], [0.17, 0.05], [0.15, 0.04], [0.12, 0.03]],  # 2019-05-03
    [[0.4, 0.12, 0.06, 0.035], [0.35, 0.1, 0.05], [0.3, 0.06], [0.27, 0.05, 0.03], [0.25, 0.04, 0.025], [0.22, 0.07], [0.2, 0.03], [0.17, 0.05], [0.15, 0.04], [0.12, 0.03]],  # 2019-08-02
    [[0.4, 0.12, 0.06, 0.035], [0.35, 0.1, 0.05], [0.3, 0.06], [0.27, 0.05, 0.03], [0.25, 0.04, 0.025], [0.22, 0.07], [0.2, 0.03], [0.17, 0.05], [0.15, 0.04], [0.12, 0.03]],  # 2019-08-23
    [[0.4, 0.12, 0.06, 0.035], [0.35, 0.1, 0.05], [0.3, 0.06], [0.27, 0.05, 0.03], [0.25, 0.04, 0.025], [0.22, 0.07], [0.2, 0.03], [0.17, 0.05], [0.15, 0.04], [0.12, 0.03]],  # 2019-11-01
    [[0.4, 0.12, 0.06, 0.035], [0.35, 0.1, 0.05], [0.3, 0.06], [0.27, 0.05, 0.03], [0.25, 0.04, 0.025], [0.22, 0.07], [0.2, 0.03], [0.17, 0.05], [0.15, 0.04], [0.12, 0.03]],  # 2020-02-07
    [[0.4, 0.12, 0.06, 0.035], [0.35, 0.1, 0.05], [0.3, 0.06], [0.27, 0.05, 0.03], [0.25, 0.04, 0.025], [0.22, 0.07], [0.2, 0.03], [0.17, 0.05], [0.15, 0.04], [0.12, 0.03]],  # 2020-05-01
    [[0.4, 0.12, 0.06, 0.035], [0.35, 0.1, 0.05], [0.3, 0.06], [0.27, 0.05, 0.03], [0.25, 0.04, 0.025], [0.22, 0.07], [0.2, 0.03], [0.17, 0.05], [0.15, 0.04], [0.12, 0.03]],  # 2020-08-14
    [[0.4, 0.12, 0.06], [0.35, 0.1, 0.05], [0.3, 0.06], [0.27, 0.05, 0.03], [0.25, 0.04], [0.22, 0.07], [0.2, 0.03], [0.17, 0.05], [0.15, 0.04]],  # 2020-09-25
    [[0.4, 0.12], [0.35, 0.1, 0.024], [0.3, 0.036], [0.27, 0.07], [0.25, 0.018], [0.22, 0.05], [0.2, 0.06], [0.17, 0.04]],  # 2020-11-13
    # row 8
    [[0.08]],  # 2021-02-09
    [[0.3, 0.05], [0.27, 0.07], [0.25, 0.08, 0.022], [0.22, 0.04], [0.2, 0.034], [0.17, 0.05], [0.15, 0.0168], [0.12, 0.03], [0.1, 0.04]],  # 2021-02-19
    [[0.3, 0.08], [0.27, 0.055], [0.25, 0.06], [0.22, 0.07, 0.025], [0.2, 0.035], [0.17, 0.04], [0.15, 0.018], [0.12, 0.03], [0.1, 0.04]],  # 2021-03-19
    [[0.3, 0.08], [0.27, 0.055], [0.25, 0.06], [0.22, 0.07, 0.025], [0.2, 0.035], [0.17, 0.04], [0.15, 0.018], [0.12, 0.03], [0.1, 0.04]],  # 2021-06-18
    [[0.3, 0.08], [0.27, 0.055], [0.25, 0.06], [0.22, 0.07, 0.025], [0.2, 0.035], [0.17, 0.04], [0.15, 0.018], [0.12, 0.03], [0.1, 0.04]],  # 2021-08-27
    [[0.3, 0.08], [0.27, 0.055], [0.25, 0.06], [0.22, 0.07, 0.025], [0.2, 0.035], [0.17, 0.04], [0.15, 0.018], [0.12, 0.03], [0.1, 0.04]],  # 2021-10-08
    [[0.3, 0.08], [0.27, 0.055], [0.25, 0.06], [0.22, 0.07, 0.025], [0.2, 0.035], [0.17, 0.04], [0.15, 0.018], [0.12, 0.03], [0.1, 0.04]],  # 2021-11-01
    [[0.3, 0.08], [0.27, 0.055], [0.25, 0.06], [0.22, 0.07, 0.025], [0.2, 0.035], [0.17, 0.04], [0.15, 0.018], [0.12, 0.03], [0.1, 0.04]],  # 2021-11-12
    [[0.28, 0.052], [0.25, 0.07, 0.023], [0.22, 0.06], [0.2, 0.035], [0.17, 0.045], [0.15, 0.017], [0.12, 0.03], [0.1, 0.04]],  # 2022-02-25
    [[0.28, 0.063], [0.25, 0.05], [0.22, 0.07, 0.021], [0.2, 0.047], [0.17, 0.04], [0.15, 0.032], [0.12, 0.016], [0.11, 0.03]],  # 2022-05-27
    [[0.027], [0.055], [0.083], [0.11], [0.15], [0.24, 0.041], [0.2, 0.06], [0.13]],  # 2022-07-01
    [[0.3, 0.083], [0.27, 0.06], [0.25, 0.055], [0.22, 0.06, 0.018], [0.2, 0.027], [0.17, 0.04], [0.15, 0.0135], [0.13, 0.04]],  # 2022-09-01
]

# other releases drawn translucent
light_lines = [
    # row 1
    [[0.5, 0.3], [0.45, 0.23, 0.144], [0.4, 0.19, 0.115], [0.55, 0.17], [0.35, 0.2, 0.144, None, 0.087]],  # 1999-01-09
    [[0.6, 0.19], [0.5, 0.14, None, None, 0.095], [0.4, 0.15], [0.18, 0.08]],  # 1999-06-16
    [[0.5, 0.2, 0.09], [0.15, 0.045], [0.3, 0.15, 0.1, 0.09]],  # 1999-10-10
    [[0.5, 0.25, 0.12], [0.4, 0.2, 0.1, 0.08], [0.3, 0.15, 0.1]],  # 2000-02-24
    [[0.5, 0.25, 0.15, 0.1], [0.4, 0.2, 0.12], [0.3, 0.1, 0.08]],  # 2000-04-24
    [[0.5, 0.25, 0.15, 0.1], [0.4, 0.2, 0.12], [0.3, 0.12, 0.08]],  # 2000-08-14
    [[0.5, 0.25, 0.13], [0.4, 0.2, 0.1, 0.08], [0.3, 0.12, 0.07]],  # 2000-10-16
    [[0.5, 0.25, 0.13, 0.09], [0.4, 0.2, 0.1], [0.3, 0.12, 0.08]],  # 2000-12-16
    [[0.5, 0.25, 0.13], [0.4, 0.2, 0.1, 0.07], [0.3, 0.12]],  # 2001-06-01
    [],  # 2001-07-31
    [[0.41, 0.148], [0.2, 0.08], [0.3, 0.13, 0.07]],  # 2001-09-21
    [[0.45, 0.19, 0.1, 0.051], [0.17, 0.07], [0.3, 0.12]],  # 2002-02-28
    [[0.5, 0.25, 0.15, 0.1], [0.4, 0.2, 0.12, 0.08], [0.3, 0.12]],  # 2002-05-24
    [[0.5, 0.25, 0.12, 0.09], [0.4, 0.18, 0.1], [0.3, 0.1]],  # 2002-09-15
    [[0.45, 0.2, 0.107], [0.35, 0.15, 0.08]],  # 2003-01-15
    [[0.3, 0.2, 0.164], [0.25, 0.12], [0.15]],  # 2003-03-01
    # row 2
    [[0.45, 0.15, 0.06], [0.35, 0.12, 0.05], [0.3, 0.1, 0.045]],  # 2003-05-12
    [[0.12, 0.06], [0.3, 0.15, 0.08], [0.4, 0.2, 0.1, 0.06]],  # 2003-06-18
    [[0.45, 0.2, 0.1], [0.3, 0.12, 0.07]],  # 2003-09-18
    [[0.45, 0.2, 0.12, 0.1], [0.3, 0.12, 0.08]],  # 2003-11-24
    [[0.45, 0.2, 0.1], [0.3, 0.12, 0.07]],  # 2004-03-15
    [[0.35]],  # 2004-06-01
    [[0.45, 0.2, 0.1], [0.3, 0.15]],  # 2004-06-14
    [[0.45, 0.2, 0.1], [0.3, 0.12, 0.07]],  # 2004-08-30
    [[0.45, 0.2, 0.1], [0.3, 0.12, 0.07]],  # 2004-11-08
    [[0.45, 0.2, 0.1], [0.3, 0.12, 0.07]],  # 2005-02-14
    [[0.45, 0.2, 0.12, 0.09], [0.3, 0.12, 0.08], [0.4, 0.2, 0.1, None, 0.08]],  # 2005-05-09
    [[0.4]],  # 2005-08-01
    [[0.45, 0.2, 0.12, 0.1], [0.3, 0.12, 0.08]],  # 2005-08-22
    [[0.45, 0.2, 0.1, 0.08], [0.3, 0.12, 0.07]],  # 2005-10-31
    [[0.45, 0.2, 0.1], [0.3, 0.12, 0.07]],  # 2006-02-13
    [[0.5, 0.4, 0.3]],  # 2006-03-01
    # row 3
    [[0.4]],  # 2006-04-01
    [[0.45, 0.2, 0.1], [0.3, 0.12, 0.07]],  # 2006-05-03
    [[0.4]],  # 2006-08-01
    [[0.45, 0.2, 0.1], [0.3, 0.12, 0.07]],  # 2006-08-30
    [[0.35, 0.12]],  # 2006-09-01
    [[0.45, 0.2, 0.1], [0.3, 0.12, 0.07]],  # 2006-11-08
    [[0.45, 0.2, 0.1, 0.08], [0.3, 0.12, 0.07]],  # 2007-02-14
    [],  # 2007-03-01
    [[0.45, 0.2, 0.1], [0.3, 0.12, 0.07]],  # 2007-05-23
    [[0.45, 0.2, 0.1], [0.3, 0.12, 0.07]],  # 2007-08-22
    [[0.35]],  # 2007-09-01
    [[0.45, 0.2, 0.1], [0.3, 0.12, 0.07]],  # 2007-11-07
    [[0.45, 0.2, 0.1], [0.3, 0.12, 0.07]],  # 2008-02-13
    [[0.45, 0.2, 0.1], [0.3, 0.12, 0.07]],  # 2008-05-21
    [[0.45, 0.2, 0.1], [0.3, 0.12, 0.07]],  # 2008-08-20
    [],  # 2008-09-01
    # row 4
    [[0.45, 0.2, 0.1], [0.3, 0.12, 0.07]],  # 2008-11-05
    [[0.45, 0.2, 0.1], [0.3, 0.12, 0.07]],  # 2009-02-11
    [],  # 2009-03-01
    [[0.45, 0.2, 0.1], [0.3, 0.12, 0.07]],  # 2009-05-16
    [[0.45, 0.2, 0.1], [0.3, 0.12, 0.07]],  # 2009-08-19
    [[0.45, 0.2, 0.1], [0.3, 0.12, 0.07]],  # 2009-11-04
    [[0.45, 0.2, 0.1], [0.3, 0.12, 0.07]],  # 2009-12-01
    [[0.45, 0.2, 0.1], [0.3, 0.12, 0.07]],  # 2010-02-10
    [[0.45, 0.2, 0.1], [0.3, 0.12, 0.07]],  # 2010-05-12
    [[0.45, 0.2, 0.1], [0.3, 0.12, 0.07]],  # 2010-08-18
    [[0.45, 0.2, 0.1], [0.3, 0.12, 0.07]],  # 2011-04-25
    [],  # 2011-06-17
    [[0.45, 0.2, 0.1], [0.3, 0.12, 0.07]],  # 2011-08-31
    [[0.45, 0.2, 0.1], [0.3, 0.12, 0.07]],  # 2011-11-16
    [[0.45, 0.2, 0.1], [0.3, 0.12, 0.07]],  # 2012-02-08
    [[0.45, 0.2, 0.1], [0.3, 0.12, 0.07]],  # 2012-05-09
    # row 5
    [],  # 2012-06-15
    [[0.4, 0.15, 0.08, None, None, 0.05], [0.3, 0.12, 0.06]],  # 2012-08-15
    [[0.4, 0.15, 0.08], [0.3, 0.12, 0.06]],  # 2012-11-07
    [[0.4, 0.15, 0.08], [0.3, 0.12, 0.06]],  # 2013-02-06
    [[0.4, 0.15, 0.08], [0.3, 0.12, 0.06]],  # 2013-05-08
    [[0.4, 0.15, 0.08], [0.3, 0.12, 0.06]],  # 2013-08-14
    [[0.4, 0.15, 0.08], [0.3, 0.12, 0.06]],  # 2013-11-06
    [],  # 2013-11-08
    [[0.4, 0.15, 0.08], [0.3, 0.12, 0.06]],  # 2014-02-05
    [],  # 2014-02-12
    [[0.4, 0.15, 0.08], [0.3, 0.12, 0.06]],  # 2014-05-07
    [[0.38]],  # 2014-05-23
    [[0.4, 0.15, 0.08], [0.3, 0.12, 0.06]],  # 2014-08-13
    [[0.4, 0.15, 0.08], [0.3, 0.12, 0.06]],  # 2014-11-05
    [[0.4, 0.15, 0.08], [0.3, 0.12, 0.06]],  # 2015-02-04
    [],  # 2015-04-29
    # row 6
    [[0.35, 0.12, 0.06], [0.25, 0.1, 0.05]],  # 2015-05-06
    [[0.35, 0.12, 0.06], [0.25, 0.1, 0.05]],  # 2015-08-12
    [[0.35, 0.12, 0.06, 0.04], [0.25, 0.1, 0.05]],  # 2015-11-04
    [],  # 2015-11-23
    [[0.35, 0.12, 0.06], [0.25, 0.1, 0.05]],  # 2016-02-03
    [[0.35, 0.12, 0.06], [0.25, 0.1, 0.05]],  # 2016-02-22
    [],  # 2016-04-27
    [[0.35, 0.12, 0.06], [0.25, 0.1, 0.05]],  # 2016-05-02
    [[0.35, 0.12, 0.06], [0.25, 0.1, 0.05]],  # 2016-08-03
    [[0.35, 0.12, 0.06], [0.25, 0.1, 0.05]],  # 2016-11-02
    [[0.35, 0.12, 0.06], [0.25, 0.1, 0.05]],  # 2017-02-03
    [[0.35, 0.12, 0.06], [0.25, 0.1, 0.05]],  # 2017-05-01
    [[0.35, 0.12, 0.06], [0.25, 0.1, 0.05]],  # 2017-05-05
    [[0.35, 0.12, 0.06], [0.25, 0.1, 0.05]],  # 2017-08-04
    [[0.35, 0.12, 0.06], [0.25, 0.1, 0.05]],  # 2017-10-06
    [[0.35, 0.12, 0.06], [0.25, 0.1, 0.05]],  # 2017-11-03
    # row 7
    [[0.35, 0.12, 0.06], [0.25, 0.1, 0.05]],  # 2018-02-02
    [[0.35, 0.12, 0.06], [0.25, 0.1, 0.05]],  # 2018-05-04
    [[0.35, 0.12, 0.06], [0.25, 0.1, 0.05]],  # 2018-08-03
    [],  # 2018-09-07
    [[0.35, 0.12, 0.06], [0.25, 0.1, 0.05]],  # 2018-11-02
    [[0.35, 0.12, 0.06], [0.25, 0.1, 0.05]],  # 2019-02-01
    [],  # 2019-03-29
    [[0.35, 0.12, 0.06], [0.25, 0.1, 0.05]],  # 2019-05-03
    [[0.35, 0.12, 0.06], [0.25, 0.1, 0.05]],  # 2019-08-02
    [[0.35, 0.12, 0.06], [0.25, 0.1, 0.05]],  # 2019-08-23
    [[0.35, 0.12, 0.06], [0.25, 0.1, 0.05]],  # 2019-11-01
    [[0.35, 0.12, 0.06], [0.25, 0.1, 0.05]],  # 2020-02-07
    [[0.35, 0.12, 0.06], [0.25, 0.1, 0.05]],  # 2020-05-01
    [[0.35, 0.12, 0.06], [0.25, 0.1, 0.05]],  # 2020-08-14
    [[0.35, 0.12, 0.06], [0.25, 0.1, 0.05]],  # 2020-09-25
    [[0.4, 0.12, 0.06, 0.03]],  # 2020-11-13
    # row 8
    [[0.24, 0.12]],  # 2021-02-09
    [[0.28, 0.085], [0.1, 0.05]],  # 2021-02-19
    [[0.3, 0.1, 0.05], [0.2, 0.08]],  # 2021-03-19
    [[0.3, 0.1, 0.05], [0.2, 0.08]],  # 2021-06-18
    [[0.3, 0.1, 0.05], [0.2, 0.08]],  # 2021-08-27
    [[0.3, 0.1, 0.05], [0.2, 0.08]],  # 2021-10-08
    [[0.3, 0.1, 0.05], [0.2, 0.08]],  # 2021-11-01
    [[0.3, 0.1, 0.05], [0.2, 0.08]],  # 2021-11-12
    [[0.3, 0.08, 0.023], [0.12, 0.05]],  # 2022-02-25
    [[0.25, 0.08]],  # 2022-05-27
    [[0.3, 0.083], [0.2]],  # 2022-07-01
    [[0.28, 0.1, 0.055], [0.2, 0.07, 0.04, 0.0225]],  # 2022-09-01
]

cbar_ticks = [12500, 15000, 17500]
cbar_tick_text = ["12500", "15000", "17500"]
y_ticks = [0.01, 0.1, 1]
y_tick_text = ["0.01", "0.10", "1.00"]
x_ticks = [1, 10]
x_tick_text = ["1", "10"]

assert len(dates) == len(hl_n) == len(hl_y) == len(dark_lines) == len(light_lines) == 124

# ---------------- layout geometry (reference px * 0.8) ----------------
W, H = 4096, 2304
S = 0.8
NCOL = 16
PX0, PDX, PW = 101.7, 301.7, 288.3
PY0, PDY, PH = 80.0, 344.5, 288.0
XRANGE = [-0.0653, 1.4285]
YRANGE = [-2.43, 0.112]
FONT = "Liberation Sans, Arial, Helvetica, sans-serif"
TXT = 19.2

days = [(pd.Timestamp(d) - pd.Timestamp("1970-01-01")).days for d in dates]
dmin, dmax = min(days), max(days)
colors = sample_colorscale("Viridis", [(d - dmin) / (dmax - dmin) for d in days])

fig = go.Figure()
layout = {}
annotations = []
traces = []
n_panels = len(dates)


def line_xy(vals):
    xs, ys = [1], [1.0]
    for k, v in enumerate(vals):
        if v is not None:
            xs.append(k + 2)
            ys.append(v)
    return xs, ys


for i, d in enumerate(dates):
    r, c = divmod(i, NCOL)
    sfx = "" if i == 0 else str(i + 1)
    left = (PX0 + PDX * c) * S
    top = (PY0 + PDY * r) * S
    w = PW * S
    h = PH * S
    bottom_of_col = (i + NCOL >= n_panels)
    left_col = (c == 0)

    xa = dict(domain=[left / W, (left + w) / W], type="log", range=XRANGE,
              anchor="y" + sfx, showgrid=False, zeroline=False, fixedrange=True)
    ya = dict(domain=[1 - (top + h) / H, 1 - top / H], type="log", range=YRANGE,
              anchor="x" + sfx, showgrid=False, zeroline=False, fixedrange=True)
    if bottom_of_col:
        xa.update(showline=True, linecolor="black", linewidth=1.8, ticks="outside",
                  ticklen=4.5, tickwidth=1.4, tickcolor="black", tickvals=x_ticks,
                  ticktext=x_tick_text, showticklabels=True,
                  tickfont=dict(family=FONT, size=TXT, color="black"))
    else:
        xa.update(showline=False, ticks="", showticklabels=False)
    if left_col:
        ya.update(showline=True, linecolor="black", linewidth=1.8, ticks="outside",
                  ticklen=4.5, tickwidth=1.4, tickcolor="black", tickvals=y_ticks,
                  ticktext=y_tick_text, showticklabels=True,
                  tickfont=dict(family=FONT, size=TXT, color="black"))
    else:
        ya.update(showline=False, ticks="", showticklabels=False)
    layout["xaxis" + sfx] = xa
    layout["yaxis" + sfx] = ya

    annotations.append(dict(text=d, x=(left + w / 2) / W, y=1 - (top - 16.6) / H,
                            xref="paper", yref="paper", showarrow=False,
                            xanchor="center", yanchor="middle",
                            font=dict(family=FONT, size=TXT, color="black")))

    xref, yref = "x" + sfx, "y" + sfx
    for ln in light_lines[i]:
        xs, ys = line_xy(ln)
        traces.append(go.Scatter(x=xs, y=ys, xaxis=xref, yaxis=yref, mode="lines+markers",
                                 line=dict(color="rgba(0,0,0,0.3)", width=2.0),
                                 marker=dict(color="rgba(0,0,0,0.3)", size=6),
                                 hoverinfo="skip", showlegend=False))
    for ln in dark_lines[i]:
        xs, ys = line_xy(ln)
        traces.append(go.Scatter(x=xs, y=ys, xaxis=xref, yaxis=yref, mode="lines+markers",
                                 line=dict(color="rgba(0,0,0,0.88)", width=2.4),
                                 marker=dict(color="rgba(0,0,0,0.95)", size=6.6),
                                 hoverinfo="skip", showlegend=False))
    traces.append(go.Scatter(x=hl_n[i], y=hl_y[i], xaxis=xref, yaxis=yref, mode="lines+markers",
                             line=dict(color=colors[i], width=3.6),
                             marker=dict(color=colors[i], size=8),
                             hoverinfo="skip", showlegend=False))

# colour bar legend
traces.append(go.Scatter(
    x=[None], y=[None], xaxis="x", yaxis="y", mode="markers", showlegend=False, hoverinfo="skip",
    marker=dict(color=[dmin, dmax], cmin=dmin, cmax=dmax, colorscale="Viridis", showscale=True,
                colorbar=dict(x=3960 / W, xanchor="left", y=1 - 1158 / H, yanchor="middle",
                              lenmode="pixels", len=141.6, thicknessmode="pixels", thickness=28.8,
                              xpad=0, ypad=0, outlinewidth=0, tickvals=cbar_ticks,
                              ticktext=cbar_tick_text,
                              ticks="inside", ticklen=5, tickcolor="white", tickwidth=1.2,
                              tickfont=dict(family=FONT, size=TXT, color="black")))))

fig.add_traces(traces)

annotations.append(dict(text="release_date", x=3961 / W, y=1 - 1069.6 / H, xref="paper", yref="paper",
                        showarrow=False, xanchor="left", yanchor="middle",
                        font=dict(family=FONT, size=TXT, color="black")))
annotations.append(dict(text="n", x=2006.9 / W, y=1 - 2265 / H, xref="paper", yref="paper",
                        showarrow=False, xanchor="center", yanchor="middle",
                        font=dict(family=FONT, size=TXT, color="black")))
annotations.append(dict(text="ecdf", x=13 / W, y=1 - 1143.6 / H, xref="paper", yref="paper",
                        showarrow=False, xanchor="center", yanchor="middle", textangle=-90,
                        font=dict(family=FONT, size=TXT, color="black")))

layout.update(width=W, height=H, margin=dict(l=0, r=0, t=0, b=0),
              paper_bgcolor="white", plot_bgcolor="rgba(0,0,0,0)",
              annotations=annotations, showlegend=False)
fig.update_layout(**layout)
fig.write_html("out.html")
